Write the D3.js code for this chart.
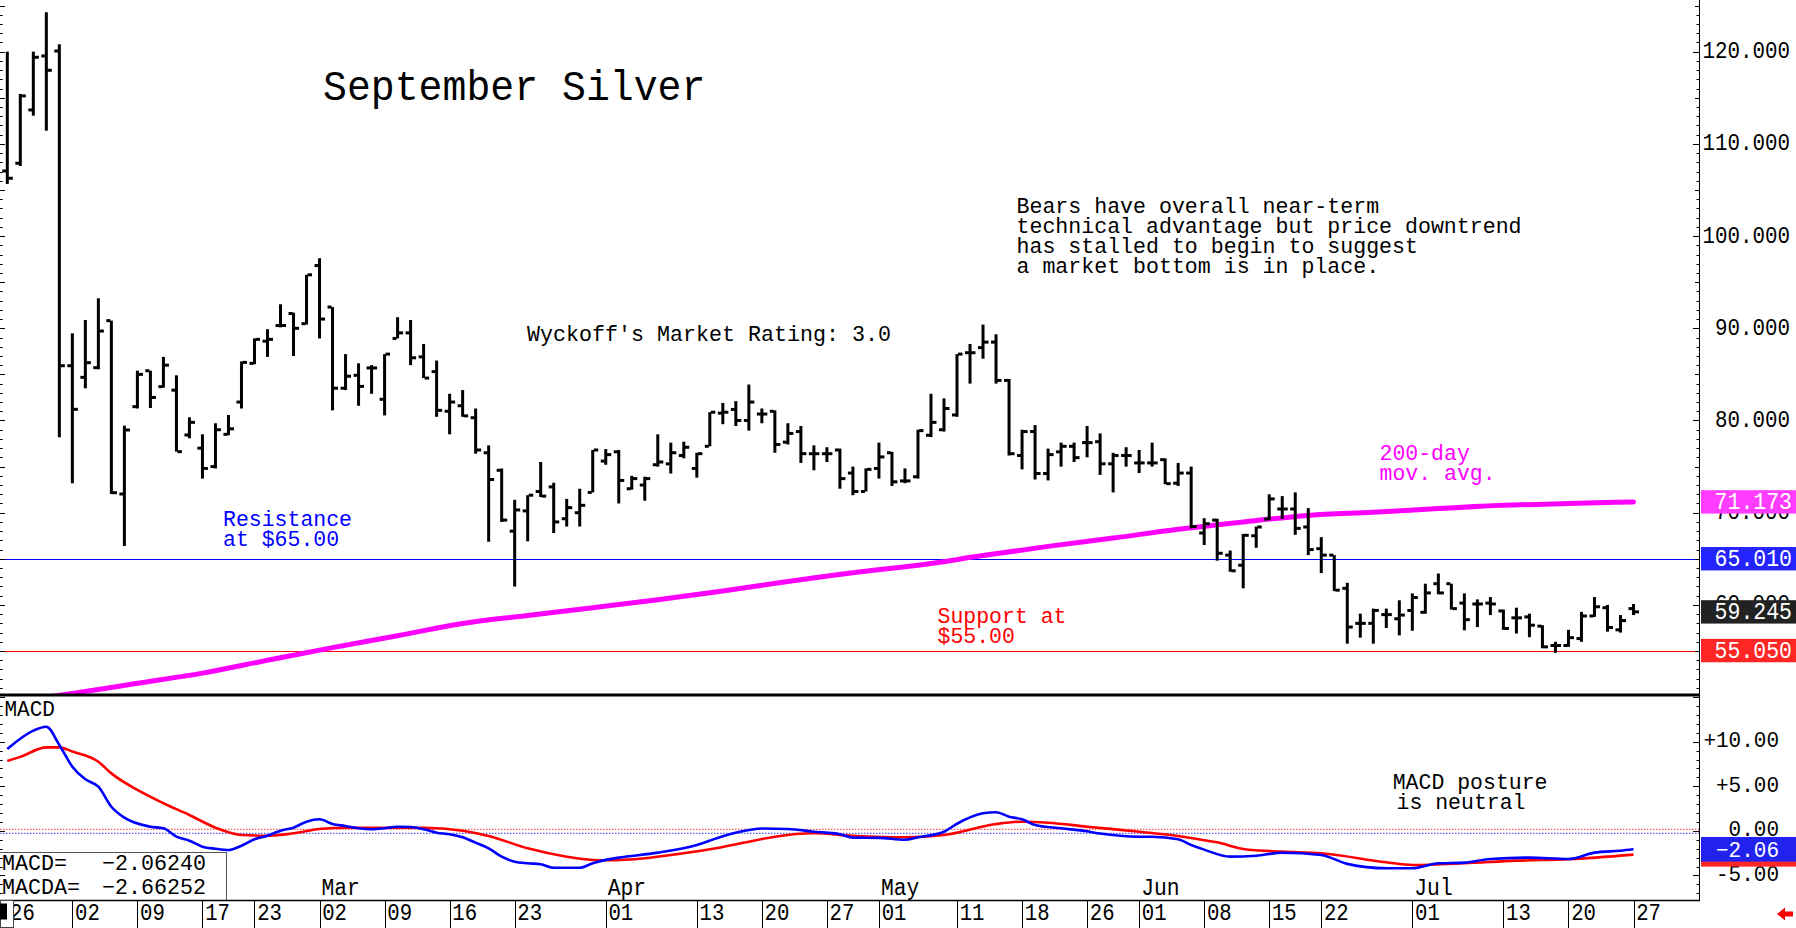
<!DOCTYPE html>
<html>
<head>
<meta charset="utf-8">
<script src="https://cdn.jsdelivr.net/npm/d3@7"></script>
<style>
  body { margin: 0; background: #fff; }
  svg { display: block; }
</style>
</head>
<body>
<script>
const width = 1796;
const height = 928;
const FONT = "'Liberation Mono', 'DejaVu Sans Mono', monospace";

// daily bars, Jan 26 .. Jul 27 (trading days)
const openP = [107.06,107.9,113.68,119.53,120.07,85.94,84.68,85.73,90.83,72.03,
  81.5,85.4,83.67,83.29,78.43,77.0,75.0,78.5,82.0,86.2,
  88.6,90.3,91.6,90.5,96.8,92.3,83.5,84.9,85.7,82.3,
  88.9,89.5,86.9,85.3,81.0,81.6,80.3,76.5,74.6,68.0,
  70.2,72.3,72.8,69.35,70.0,72.2,75.6,76.6,72.6,73.0,
  75.2,75.3,76.2,74.8,77.2,80.8,81.2,80.0,80.7,81.0,
  77.65,78.8,76.4,76.4,76.8,74.3,72.3,74.8,76.5,73.45,
  73.9,78.4,79.0,80.6,87.35,87.9,88.5,84.35,76.2,78.8,
  74.25,76.6,77.2,77.6,77.7,75.3,76.2,75.4,75.4,75.75,
  73.2,74.3,67.8,69.2,65.4,64.3,67.5,69.3,70.4,70.4,
  68.45,66.1,65.4,61.8,58.0,58.0,58.95,58.5,59.4,59.2,
  62.3,62.3,60.2,60.1,60.2,59.35,58.6,58.7,57.7,55.6,
  55.6,56.35,58.8,59.7,57.3,59.6];
const highP = [120.0,115.41,120.0,124.27,120.8,89.45,90.9,93.25,90.83,79.44,
  85.4,85.4,86.9,84.9,80.35,78.5,79.7,80.6,86.4,88.9,
  89.9,92.6,91.7,95.8,97.6,92.3,87.2,86.2,86.0,87.2,
  91.2,90.9,88.3,86.5,82.9,83.3,81.3,77.3,74.8,71.4,
  71.9,75.5,73.25,71.5,72.6,76.8,76.9,76.8,74.0,73.9,
  78.5,77.6,77.7,76.5,80.9,81.9,82.1,83.9,81.3,81.1,
  79.7,79.4,77.3,77.1,76.95,75.0,74.8,77.6,76.6,74.8,
  79.0,82.9,82.4,87.2,88.3,90.4,89.35,84.5,79.0,79.5,
  76.95,77.6,77.6,79.4,78.6,76.5,77.1,76.8,77.6,75.9,
  75.4,75.0,69.4,69.35,65.9,67.7,68.5,72.0,71.8,72.2,
  70.5,67.35,65.4,62.4,59.05,59.6,59.6,60.5,61.25,62.3,
  63.4,62.3,61.25,60.6,60.85,59.5,59.7,59.05,57.8,56.0,
  57.3,59.25,60.85,60.0,58.9,60.1];
const lowP = [105.65,107.6,113.06,111.43,78.18,73.19,83.49,85.55,72.03,66.4,
  81.3,81.36,83.56,76.62,78.07,73.7,74.8,78.4,81.3,86.1,
  86.9,90.1,87.0,90.4,88.9,81.1,83.3,81.6,82.9,80.55,
  88.9,86.0,84.6,80.4,78.5,80.4,76.4,66.85,69.0,62.0,
  66.9,71.7,67.8,68.5,68.5,72.2,75.2,71.0,72.5,71.3,
  75.0,74.25,75.9,73.8,77.2,79.6,79.4,78.9,79.7,76.5,
  77.4,75.4,74.6,75.5,72.6,71.9,72.3,73.7,72.9,73.2,
  73.7,78.2,78.8,80.4,84.0,86.7,84.0,76.2,74.7,73.6,
  73.5,75.0,75.5,76.0,74.1,72.2,75.0,74.3,75.0,73.1,
  72.9,68.3,66.5,64.8,63.6,61.8,66.2,69.2,69.35,67.6,
  65.4,63.45,61.5,55.8,56.45,55.8,57.5,56.7,57.2,59.05,
  61.15,59.5,57.25,57.6,58.9,57.3,56.9,56.5,55.3,54.8,
  55.45,56.0,58.7,57.1,57.0,58.9];
const closeP = [106.27,115.2,119.39,117.98,85.94,81.21,86.27,89.7,72.17,78.97,
  85.0,82.5,86.0,76.62,79.8,74.8,79.0,79.1,86.3,88.8,
  88.8,90.3,90.0,95.8,91.0,83.5,84.8,83.7,85.7,87.2,
  89.5,86.8,84.6,81.1,82.0,80.5,76.8,73.6,69.2,70.3,
  71.9,71.8,69.0,70.55,70.8,76.8,76.3,73.5,73.7,73.7,
  75.5,76.5,77.1,76.4,80.9,80.9,80.0,82.0,80.7,77.4,
  78.6,76.4,76.4,76.4,73.7,72.3,74.7,76.05,73.35,73.45,
  78.9,79.8,81.3,87.2,87.35,88.5,84.35,76.4,78.8,74.25,
  76.3,77.2,75.97,77.6,75.3,76.2,76.2,75.4,75.4,73.15,
  74.3,68.5,68.8,65.6,63.7,67.55,68.45,71.5,70.4,68.3,
  66.0,65.4,61.6,57.6,58.0,59.4,58.95,58.9,60.8,61.3,
  61.3,59.6,58.4,60.1,60.1,57.45,58.6,57.8,55.45,55.6,
  56.45,58.8,59.8,57.55,58.3,59.245];

// 200-day moving average, read at bar index
const maPoints = [[0,49.4],[5,50.4],[10,51.5],[15,52.6],[20,54.0],[25,55.37],
  [30,56.66],[35,57.99],[40,58.86],[45,59.7],[50,60.55],[55,61.5],[60,62.55],
  [65,63.5],[70,64.3],[75,65.35],[80,66.35],[85,67.25],[90,68.2],[95,69.0],
  [100,69.7],[105,70.05],[110,70.45],[115,70.8],[120,71.0],[125,71.17]];

const macdPoints = [[0,9.18],[2,11.24],[3,11.68],[4,9.63],[5,7.2],[6,5.78],[7,4.96],
  [8,2.71],[9,1.48],[11,0.47],[12,0.29],[13,-0.65],[14,-1.1],[15,-1.77],[16,-2.0],
  [17,-2.14],[18,-1.66],[19,-0.94],[20,-0.54],[21,0.02],[22,0.36],[23,1.03],[24,1.3],
  [25,0.77],[26,0.55],[27,0.29],[28,0.18],[29,0.29],[30,0.47],[31,0.44],[32,0.18],
  [33,-0.2],[34,-0.38],[35,-0.72],[36,-1.32],[37,-1.95],[38,-2.89],[39,-3.45],
  [40,-3.63],[41,-3.74],[42,-4.13],[43,-4.13],[44,-4.13],[45,-3.63],[46,-3.25],
  [47,-3.0],[50,-2.44],[53,-1.58],[55,-0.6],[57,0.1],[58,0.27],[60,0.21],[62,-0.09],
  [64,-0.38],[65,-0.75],[67,-0.78],[69,-1.0],[70,-0.72],[72,-0.09],[73,0.8],[75,1.97],
  [76,2.09],[77,1.59],[78,1.3],[79,0.66],[81,0.29],[83,-0.05],[84,-0.3],[87,-0.65],
  [88,-0.65],[90,-0.94],[91,-1.58],[92,-2.1],[94,-2.89],[96,-2.78],[98,-2.45],
  [101,-2.7],[103,-3.7],[106,-4.19],[108,-4.19],[110,-3.63],[112,-3.56],[114,-3.15],
  [117,-3.0],[120,-3.15],[122,-2.44],[124,-2.22],[125,-2.06]];
const signalPoints = [[0,7.84],[1,8.3],[3,9.37],[4,9.37],[5,8.9],[7,7.76],[8,6.45],
  [10,4.59],[12,3.1],[14,1.78],[16,0.36],[18,-0.46],[20,-0.54],[22,-0.27],[24,0.21],
  [26,0.36],[29,0.36],[32,0.36],[35,0.02],[37,-0.57],[40,-1.95],[43,-2.89],[45,-3.26],
  [46,-3.3],[49,-3.07],[51,-2.7],[54,-2.06],[57,-1.21],[59,-0.65],[62,-0.27],[65,-0.54],
  [69,-0.72],[72,-0.46],[76,0.77],[78,1.03],[80,0.92],[83,0.47],[87,-0.09],[90,-0.57],
  [92,-1.05],[93,-1.28],[95,-2.03],[98,-2.33],[101,-2.51],[106,-3.52],[108,-3.82],
  [112,-3.63],[116,-3.34],[120,-3.18],[125,-2.66]];

// date axis
const tickIdx = [0,5,10,15,19,24,29,34,39,46,53,58,63,67,73,78,83,87,92,97,101,108,115,120,125];
const tickLabels = ["26","02","09","17","23","02","09","16","23","01","13","20","27",
  "01","11","18","26","01","08","15","22","01","13","20","27"];
const monthIdx = [24,46,67,87,108];
const monthLabels = ["Mar","Apr","May","Jun","Jul"];

const priceTicks = [120,110,100,90,80,70,60];
const macdTicks = [10,5,0,-5];
const macdTickLabels = ["+10.00","+5.00","0.00","-5.00"];

const resistance = 65.01;
const support = 55.05;
const lastMA = 71.173;
const lastClose = 59.245;
const lastMacd = -2.0624;
const lastSignal = -2.66252;
const macdZeroRefs = [0.18, -0.27];

// ---------------------------------------------------------------
const svg = d3.select("body").append("svg")
    .attr("width", width)
    .attr("height", height);

svg.append("rect").attr("width", width).attr("height", height).attr("fill", "#fff");

const plotRight = 1699;
const x = d3.scaleLinear().domain([0, 125]).range([7.3, 1633.5]);
const yP = d3.scaleLinear().domain([50.34, 125.6]).range([694, 0]);
const yM = d3.scaleLinear().domain([-7.75, 15.35]).range([900, 694]);

const defs = svg.append("defs");
defs.append("clipPath").attr("id", "clipPrice")
    .append("rect").attr("x", 0).attr("y", 0).attr("width", plotRight).attr("height", 694);
defs.append("clipPath").attr("id", "clipMacd")
    .append("rect").attr("x", 0).attr("y", 696).attr("width", plotRight).attr("height", 204);

function label(g, str, px, py, size, cw, color, anchor) {
    const t = g.append("text")
        .attr("x", px).attr("y", py)
        .attr("font-family", FONT)
        .attr("font-size", size)
        .attr("fill", color || "#000")
        .attr("textLength", str.length * cw)
        .attr("lengthAdjust", "spacingAndGlyphs")
        .text(str);
    if (anchor) t.attr("text-anchor", anchor);
    return t;
}

// ---------------- MACD panel ----------------
const macdG = svg.append("g").attr("clip-path", "url(#clipMacd)");

macdG.selectAll(".zref")
    .data(macdZeroRefs)
    .join("line")
    .attr("x1", 0).attr("x2", plotRight)
    .attr("y1", d => yM(d)).attr("y2", d => yM(d))
    .attr("stroke", (d, i) => i === 0 ? "#ff3030" : "#3030ff")
    .attr("stroke-width", 1)
    .attr("stroke-dasharray", "1.5,1.5");

const macdLine = d3.line()
    .x(d => x(d[0]))
    .y(d => yM(d[1]))
    .curve(d3.curveMonotoneX);

macdG.append("path").datum(signalPoints)
    .attr("d", macdLine).attr("fill", "none")
    .attr("stroke", "#ff0000").attr("stroke-width", 2.6);
macdG.append("path").datum(macdPoints)
    .attr("d", macdLine).attr("fill", "none")
    .attr("stroke", "#0000ff").attr("stroke-width", 2.6);

// value box bottom-left
svg.append("rect")
    .attr("x", -1).attr("y", 852.5).attr("width", 227.5).attr("height", 48)
    .attr("fill", "#fff").attr("stroke", "#555").attr("stroke-width", 1);
label(svg, "MACD=", 2, 870, 22, 13, "#000");
label(svg, d3.format(".5f")(lastMacd), 102, 870, 22, 13, "#000");
label(svg, "MACDA=", 2, 893.5, 22, 13, "#000");
label(svg, d3.format(".5f")(lastSignal), 102, 893.5, 22, 13, "#000");

label(svg, "MACD", 4.5, 716, 22, 12.6, "#000");

// ---------------- price panel ----------------
const priceG = svg.append("g").attr("clip-path", "url(#clipPrice)");

[[resistance, "#0000ff"], [support, "#ff0000"]].forEach(function (d) {
    priceG.append("line")
        .attr("x1", 0).attr("x2", plotRight)
        .attr("y1", Math.round(yP(d[0])) + 0.5).attr("y2", Math.round(yP(d[0])) + 0.5)
        .attr("stroke", d[1]).attr("stroke-width", 1);
});

priceG.append("path").datum(maPoints)
    .attr("d", d3.line().x(d => x(d[0])).y(d => yP(d[1])).curve(d3.curveMonotoneX))
    .attr("fill", "none")
    .attr("stroke", "#ff00ff")
    .attr("stroke-width", 5)
    .attr("stroke-linecap", "round");

const idx = d3.range(openP.length);
priceG.selectAll(".hl").data(idx).join("rect")
    .attr("x", i => x(i) - 1.5)
    .attr("width", 3)
    .attr("y", i => yP(highP[i]))
    .attr("height", i => Math.max(2, yP(lowP[i]) - yP(highP[i])))
    .attr("fill", "#000");
priceG.selectAll(".op").data(idx).join("rect")
    .attr("x", i => x(i) - 5)
    .attr("width", 4)
    .attr("y", i => yP(openP[i]) - 1.5)
    .attr("height", 3)
    .attr("fill", "#000");
priceG.selectAll(".cl").data(idx).join("rect")
    .attr("x", i => x(i) + 1)
    .attr("width", 4.5)
    .attr("y", i => yP(closeP[i]) - 1.5)
    .attr("height", 3)
    .attr("fill", "#000");

// ---------------- frame and axes ----------------
svg.append("line")
    .attr("x1", 0).attr("x2", plotRight).attr("y1", 695).attr("y2", 695)
    .attr("stroke", "#000").attr("stroke-width", 3);
svg.append("line")
    .attr("x1", 0).attr("x2", plotRight + 1).attr("y1", 900.5).attr("y2", 900.5)
    .attr("stroke", "#000").attr("stroke-width", 1.5);
svg.append("line")
    .attr("x1", plotRight + 0.5).attr("x2", plotRight + 0.5).attr("y1", 0).attr("y2", 901)
    .attr("stroke", "#000").attr("stroke-width", 1);

const tickG = svg.append("g").attr("stroke", "#000").attr("stroke-width", 1);
d3.range(51, 126).forEach(function (v) {
    const yy = Math.round(yP(v)) + 0.5;
    const rl = v % 10 === 0 ? 6 : (v % 5 === 0 ? 4 : 2.5);
    tickG.append("line").attr("x1", plotRight - rl).attr("x2", plotRight).attr("y1", yy).attr("y2", yy);
    const ll = v % 5 === 0 ? 5 : 2.7;
    tickG.append("line").attr("x1", 0).attr("x2", ll).attr("y1", yy).attr("y2", yy);
});
d3.range(-7, 16).forEach(function (v) {
    const yy = Math.round(yM(v)) + 0.5;
    const rl = v % 5 === 0 ? 6 : 2.5;
    tickG.append("line").attr("x1", plotRight - rl).attr("x2", plotRight).attr("y1", yy).attr("y2", yy);
    const ll = v % 5 === 0 ? 5 : 2.7;
    tickG.append("line").attr("x1", 0).attr("x2", ll).attr("y1", yy).attr("y2", yy);
});

// right axis labels
priceTicks.forEach(function (v) {
    label(svg, d3.format(".3f")(v), 1790, yP(v) + 6.5, 24, 12.5, "#000", "end");
});
macdTicks.forEach(function (v, i) {
    label(svg, macdTickLabels[i], 1779, yM(v) + 5.5, 22, 12.6, "#000", "end");
});

// last value boxes
const priceBoxes = [
    { v: lastMA, fill: "#ff3cff" },
    { v: resistance, fill: "#2424ff" },
    { v: lastClose, fill: "#222222" },
    { v: support, fill: "#ff2626" }
];
priceBoxes.forEach(function (b) {
    svg.append("rect")
        .attr("x", 1701).attr("y", yP(b.v) - 11.7)
        .attr("width", 95).attr("height", 23.4)
        .attr("fill", b.fill);
    label(svg, d3.format(".3f")(b.v), 1792, yP(b.v) + 7.5, 24, 12.9, "#fff", "end");
});
svg.append("rect")
    .attr("x", 1701).attr("y", yM(lastSignal) - 12).attr("width", 95).attr("height", 24)
    .attr("fill", "#ff2626");
svg.append("rect")
    .attr("x", 1701).attr("y", yM(lastMacd) - 12.3).attr("width", 95).attr("height", 24.6)
    .attr("fill", "#2222ee");
label(svg, d3.format(".2f")(lastMacd), 1779, yM(lastMacd) + 7.5, 22, 12.6, "#fff", "end");

// date axis
svg.selectAll(".div").data(tickIdx).join("line")
    .attr("x1", d => Math.round(x(d)) + 0.5).attr("x2", d => Math.round(x(d)) + 0.5)
    .attr("y1", 900).attr("y2", 928)
    .attr("stroke", "#000").attr("stroke-width", 1);
tickIdx.forEach(function (d, i) {
    label(svg, tickLabels[i], x(d) + 2.7, 920, 23, 12.4, "#000");
});
monthIdx.forEach(function (d, i) {
    label(svg, monthLabels[i], x(d) + 2, 895, 23, 12.8, "#000");
});

svg.append("rect").attr("x", 0.5).attr("y", 900.5).attr("width", 13).attr("height", 27)
    .attr("fill", "#fff").attr("stroke", "#444").attr("stroke-width", 1);
svg.append("rect").attr("x", 0).attr("y", 903.5).attr("width", 7).attr("height", 16)
    .attr("fill", "#000");

svg.append("path")
    .attr("d", "M1777,914 L1785,907.5 L1785,911.5 L1793,911.5 L1793,916.5 L1785,916.5 L1785,920.5 Z")
    .attr("fill", "#ff0000");

// ---------------- annotations ----------------
label(svg, "September Silver", 323, 100, 43, 23.9, "#000");
label(svg, "Wyckoff's Market Rating: 3.0", 527, 341, 22, 13, "#000");

const note = ["Bears have overall near-term",
    "technical advantage but price downtrend",
    "has stalled to begin to suggest",
    "a market bottom is in place."];
note.forEach(function (s, i) {
    label(svg, s, 1016.5, 213.3 + i * 20, 22, 12.95, "#000");
});

label(svg, "Resistance", 223, 526, 22, 12.9, "#0000ff");
label(svg, "at $65.00", 223, 546, 22, 12.9, "#0000ff");
label(svg, "Support at", 937.5, 622.5, 22, 12.9, "#ff0000");
label(svg, "$55.00", 937.5, 642.5, 22, 12.9, "#ff0000");
label(svg, "200-day", 1379.5, 460, 22, 12.9, "#ff00ff");
label(svg, "mov. avg.", 1379.5, 480, 22, 12.9, "#ff00ff");
label(svg, "MACD posture", 1392.7, 789, 22, 12.9, "#000");
label(svg, "is neutral", 1396.5, 809, 22, 12.9, "#000");
</script>
</body>
</html>
